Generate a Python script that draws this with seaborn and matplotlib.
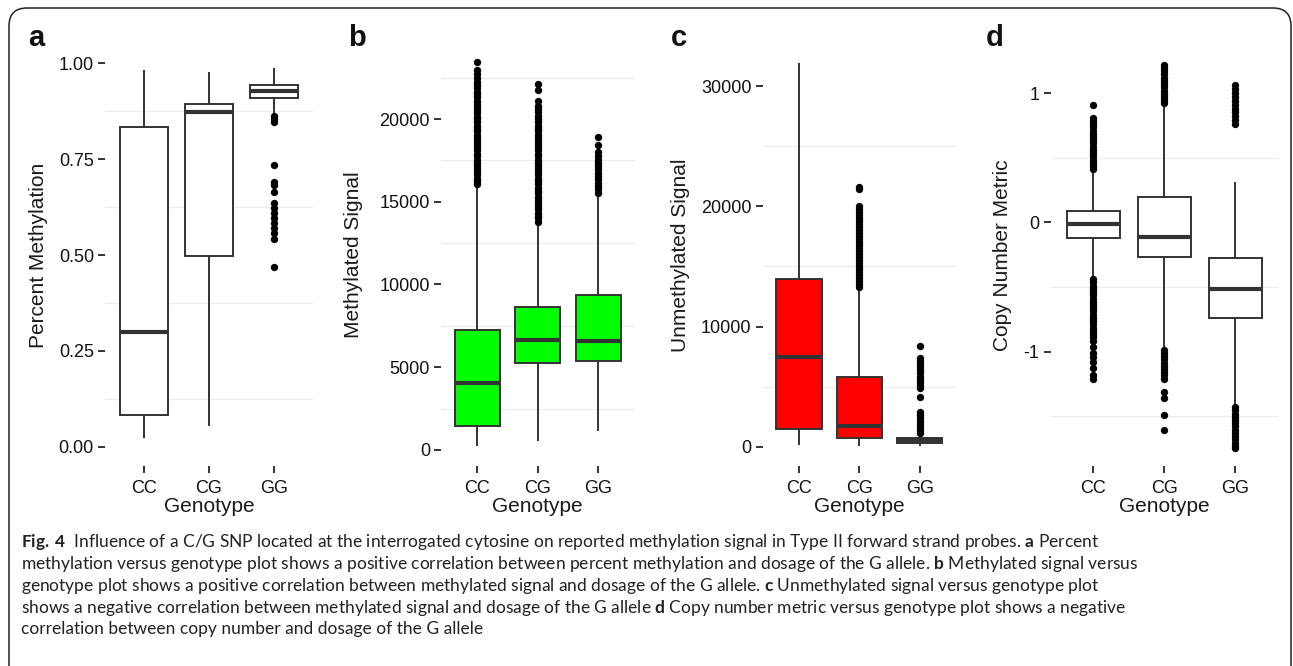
import numpy as np
import pandas as pd
import matplotlib
matplotlib.use("Agg")
import matplotlib.pyplot as plt
import seaborn as sns
from matplotlib.patches import FancyBboxPatch
from matplotlib.transforms import IdentityTransform

# ---------------- data ----------------
genotypes = ["CC", "CG", "GG"]

# five-number summaries per genotype: [whisker low, Q1, median, Q3, whisker high]
pm_CC = [0.023, 0.083, 0.299, 0.833, 0.982]
pm_CG = [0.054, 0.497, 0.873, 0.895, 0.977]
pm_GG = [0.868, 0.909, 0.928, 0.943, 0.987]
pm_out_CC = []
pm_out_CG = []
pm_out_GG = [0.862, 0.855, 0.848, 0.735, 0.691, 0.683, 0.665, 0.635, 0.622, 0.609,
             0.596, 0.583, 0.570, 0.557, 0.541, 0.470]

ms_CC = [242, 1450, 4030, 7250, 15950]
ms_CG = [560, 5240, 6650, 8660, 13700]
ms_GG = [1150, 5380, 6600, 9370, 15400]
ms_out_CC = [16050, 16250, 16400, 16600, 16800, 17000, 17150, 17350, 17550, 17750,
             17900, 18100, 18300, 18500, 18650, 18850, 19050, 19250, 19400, 19600,
             19800, 20000, 20150, 20350, 20550, 20750, 20900, 21100, 21300, 21500,
             21650, 21850, 22050, 22250, 22450, 22700, 22950, 23430]
ms_out_CG = [13800, 14000, 14150, 14350, 14550, 14750, 14900, 15100, 15300, 15500,
             15650, 15850, 16050, 16250, 16400, 16600, 16800, 17000, 17150, 17350,
             17550, 17750, 17900, 18100, 18300, 18500, 18650, 18850, 19050, 19250,
             19400, 19600, 19800, 20000, 20200, 20400, 20600, 20800, 21100, 21750, 22110]
ms_out_GG = [15550, 15750, 15950, 16150, 16350, 16550, 16750, 16950, 17150, 17350,
             17550, 17750, 18000, 18430, 18930]

us_CC = [140, 1470, 7490, 13930, 31950]
us_CG = [55, 700, 1720, 5770, 13180]
us_GG = [50, 280, 500, 750, 970]
us_out_CC = []
us_out_CG = [13300, 13550, 13800, 14050, 14300, 14550, 14800, 15050, 15300, 15550,
             15800, 16050, 16300, 16550, 16800, 17050, 17300, 17550, 17800, 18050,
             18300, 18550, 18800, 19050, 19300, 19550, 19800, 20050, 21450, 21650]
us_out_GG = [1100, 1350, 1600, 1850, 2100, 2350, 2600, 2900, 4160, 4860, 5100, 5350,
             5600, 5830, 6130, 6380, 6630, 6880, 7130, 7380, 8380]

cn_CC = [-0.421, -0.124, -0.013, 0.087, 0.384]
cn_CG = [-0.963, -0.266, -0.111, 0.198, 0.895]
cn_GG = [-1.414, -0.743, -0.516, -0.279, 0.314]
cn_out_CC = [0.41, 0.435, 0.46, 0.485, 0.51, 0.535, 0.56, 0.585, 0.61, 0.635, 0.66,
             0.685, 0.71, 0.735, 0.76, 0.785, 0.81, 0.908,
             -0.44, -0.465, -0.49, -0.515, -0.54, -0.565, -0.59, -0.615, -0.64, -0.665,
             -0.69, -0.715, -0.74, -0.765, -0.79, -0.815, -0.84, -0.865, -0.89, -0.915,
             -0.963, -1.01, -1.04, -1.08, -1.13, -1.18, -1.21]
cn_out_CG = [0.92, 0.945, 0.97, 0.995, 1.02, 1.045, 1.07, 1.095, 1.12, 1.145, 1.17,
             1.195, 1.22, -0.985, -1.01, -1.035, -1.06, -1.085, -1.11, -1.135, -1.16,
             -1.185, -1.21, -1.31, -1.36, -1.49, -1.61]
cn_out_GG = [0.76, 0.79, 0.82, 0.85, 0.88, 0.91, 0.94, 0.97, 1.0, 1.03, 1.06,
             -1.43, -1.455, -1.48, -1.505, -1.53, -1.555, -1.58, -1.605, -1.63,
             -1.655, -1.68, -1.705, -1.73, -1.75]

pm_ticks = [0.0, 0.25, 0.5, 0.75, 1.0]
pm_ticklabels = ["0.00", "0.25", "0.50", "0.75", "1.00"]
ms_ticks = [0, 5000, 10000, 15000, 20000]
ms_ticklabels = ["0", "5000", "10000", "15000", "20000"]
us_ticks = [0, 10000, 20000, 30000]
us_ticklabels = ["0", "10000", "20000", "30000"]
cn_ticks = [-1, 0, 1]
cn_ticklabels = ["-1", "0", "1"]

caption_lines = [
    r"$\mathbf{Fig.\,4}$  Influence of a C/G SNP located at the interrogated cytosine on reported methylation signal in Type II forward strand probes. $\mathbf{a}$ Percent",
    r"methylation versus genotype plot shows a positive correlation between percent methylation and dosage of the G allele. $\mathbf{b}$ Methylated signal versus",
    r"genotype plot shows a positive correlation between methylated signal and dosage of the G allele. $\mathbf{c}$ Unmethylated signal versus genotype plot",
    r"shows a negative correlation between methylated signal and dosage of the G allele $\mathbf{d}$ Copy number metric versus genotype plot shows a negative",
    r"correlation between copy number and dosage of the G allele",
]

# ---------------- style ----------------
sns.set_style("white")
plt.rcParams["font.family"] = ["Liberation Sans", "DejaVu Sans"]
plt.rcParams["axes.unicode_minus"] = False
plt.rcParams["mathtext.fontset"] = "custom"
plt.rcParams["mathtext.rm"] = "Lato"
plt.rcParams["mathtext.bf"] = "Lato:bold"

W, H = 1293, 666
fig = plt.figure(figsize=(W / 100, H / 100), dpi=100)
fig.patch.set_facecolor("white")

AX_TOP, AX_BOT = 44, 466


def long_df(groups):
    rows = [(g, v) for g, vals in zip(genotypes, groups) for v in vals]
    return pd.DataFrame(rows, columns=["Genotype", "value"])


panels = [
    dict(letter="a", left=105, right=313, boxes=[pm_CC, pm_CG, pm_GG],
         outs=[pm_out_CC, pm_out_CG, pm_out_GG], fill="white", ylim=(-0.0504, 1.0506),
         ticks=pm_ticks, labels=pm_ticklabels, minor=[0.125, 0.375, 0.625, 0.875],
         ylabel="Percent Methylation", ylab_x=38.5, letter_x=28),
    dict(letter="b", left=441, right=634.6, boxes=[ms_CC, ms_CG, ms_GG],
         outs=[ms_out_CC, ms_out_CG, ms_out_GG], fill="#00ff00", ylim=(-967, 24532),
         ticks=ms_ticks, labels=ms_ticklabels, minor=[2500, 7500, 12500, 17500, 22500],
         ylabel="Methylated Signal", ylab_x=353, letter_x=348),
    dict(letter="c", left=762.7, right=956, boxes=[us_CC, us_CG, us_GG],
         outs=[us_out_CC, us_out_CG, us_out_GG], fill="#ff0000", ylim=(-1606, 33511),
         ticks=us_ticks, labels=us_ticklabels, minor=[5000, 15000, 25000],
         ylabel="Unmethylated Signal", ylab_x=681, letter_x=670.5),
    dict(letter="d", left=1050.7, right=1278, boxes=[cn_CC, cn_CG, cn_GG],
         outs=[cn_out_CC, cn_out_CG, cn_out_GG], fill="white", ylim=(-1.886, 1.380),
         ticks=cn_ticks, labels=cn_ticklabels, minor=[-1.5, -0.5, 0.5],
         ylabel="Copy Number Metric", ylab_x=1002, letter_x=986),
]

LINE = "#333333"
for p in panels:
    w = p["right"] - p["left"]
    ax = fig.add_axes([p["left"] / W, 1 - AX_BOT / H, w / W, (AX_BOT - AX_TOP) / H])
    ax.set_facecolor("white")
    box_df = long_df(p["boxes"])
    out_df = long_df(p["outs"])
    sns.boxplot(data=box_df, x="Genotype", y="value", order=genotypes, ax=ax,
                color=p["fill"], saturation=1, width=0.75, whis=(0, 100),
                showfliers=False, showcaps=False, linewidth=1.4, linecolor=LINE,
                medianprops={"linewidth": 3.0, "color": LINE})
    sns.stripplot(data=out_df, x="Genotype", y="value", order=genotypes, ax=ax,
                  jitter=False, color="black", size=5.3, linewidth=0, zorder=3)
    ax.set_xlim(-0.6, 2.6)
    ax.set_ylim(*p["ylim"])
    ax.set_yticks(p["ticks"])
    ax.set_yticklabels(p["labels"])
    ax.set_yticks(p["minor"], minor=True)
    ax.grid(False)
    ax.grid(which="minor", axis="y", color="#ececec", linewidth=0.9)
    ax.set_axisbelow(True)
    sns.despine(ax=ax, left=True, bottom=True)
    ax.tick_params(axis="both", which="major", bottom=True, left=True, length=5,
                   width=1.4, color=LINE, labelsize=13, labelcolor="#111111", pad=3)
    ax.tick_params(axis="x", which="major", pad=5)
    ax.tick_params(axis="y", which="minor", left=False, length=0)
    ax.set_ylabel(p["ylabel"], fontsize=15, va="center", color="#1a1a1a")
    ax.yaxis.set_label_coords((p["ylab_x"] - p["left"]) / w, 0.5)
    ax.set_xlabel("Genotype", fontsize=15, va="center", color="#1a1a1a")
    ax.xaxis.set_label_coords(0.5, (AX_BOT - 506) / (AX_BOT - AX_TOP))
    fig.text(p["letter_x"] / W, 1 - 46 / H, p["letter"], fontsize=21,
             fontweight="bold", ha="left", va="baseline", color="#111111")

# caption
baselines = [547.5, 569.3, 591, 612.7, 634.4]
for line, b in zip(caption_lines, baselines):
    fig.text(21 / W, 1 - b / H, line, fontsize=12.55, family="Lato", ha="left",
             va="baseline", color="#222222")

# rounded frame around the figure
frame = FancyBboxPatch((9, -40), 1282, 698, boxstyle="round,pad=0,rounding_size=18",
                       transform=IdentityTransform(), fill=False, edgecolor="#222222",
                       linewidth=1.1)
fig.add_artist(frame)

fig.savefig("out.png", dpi=100)
